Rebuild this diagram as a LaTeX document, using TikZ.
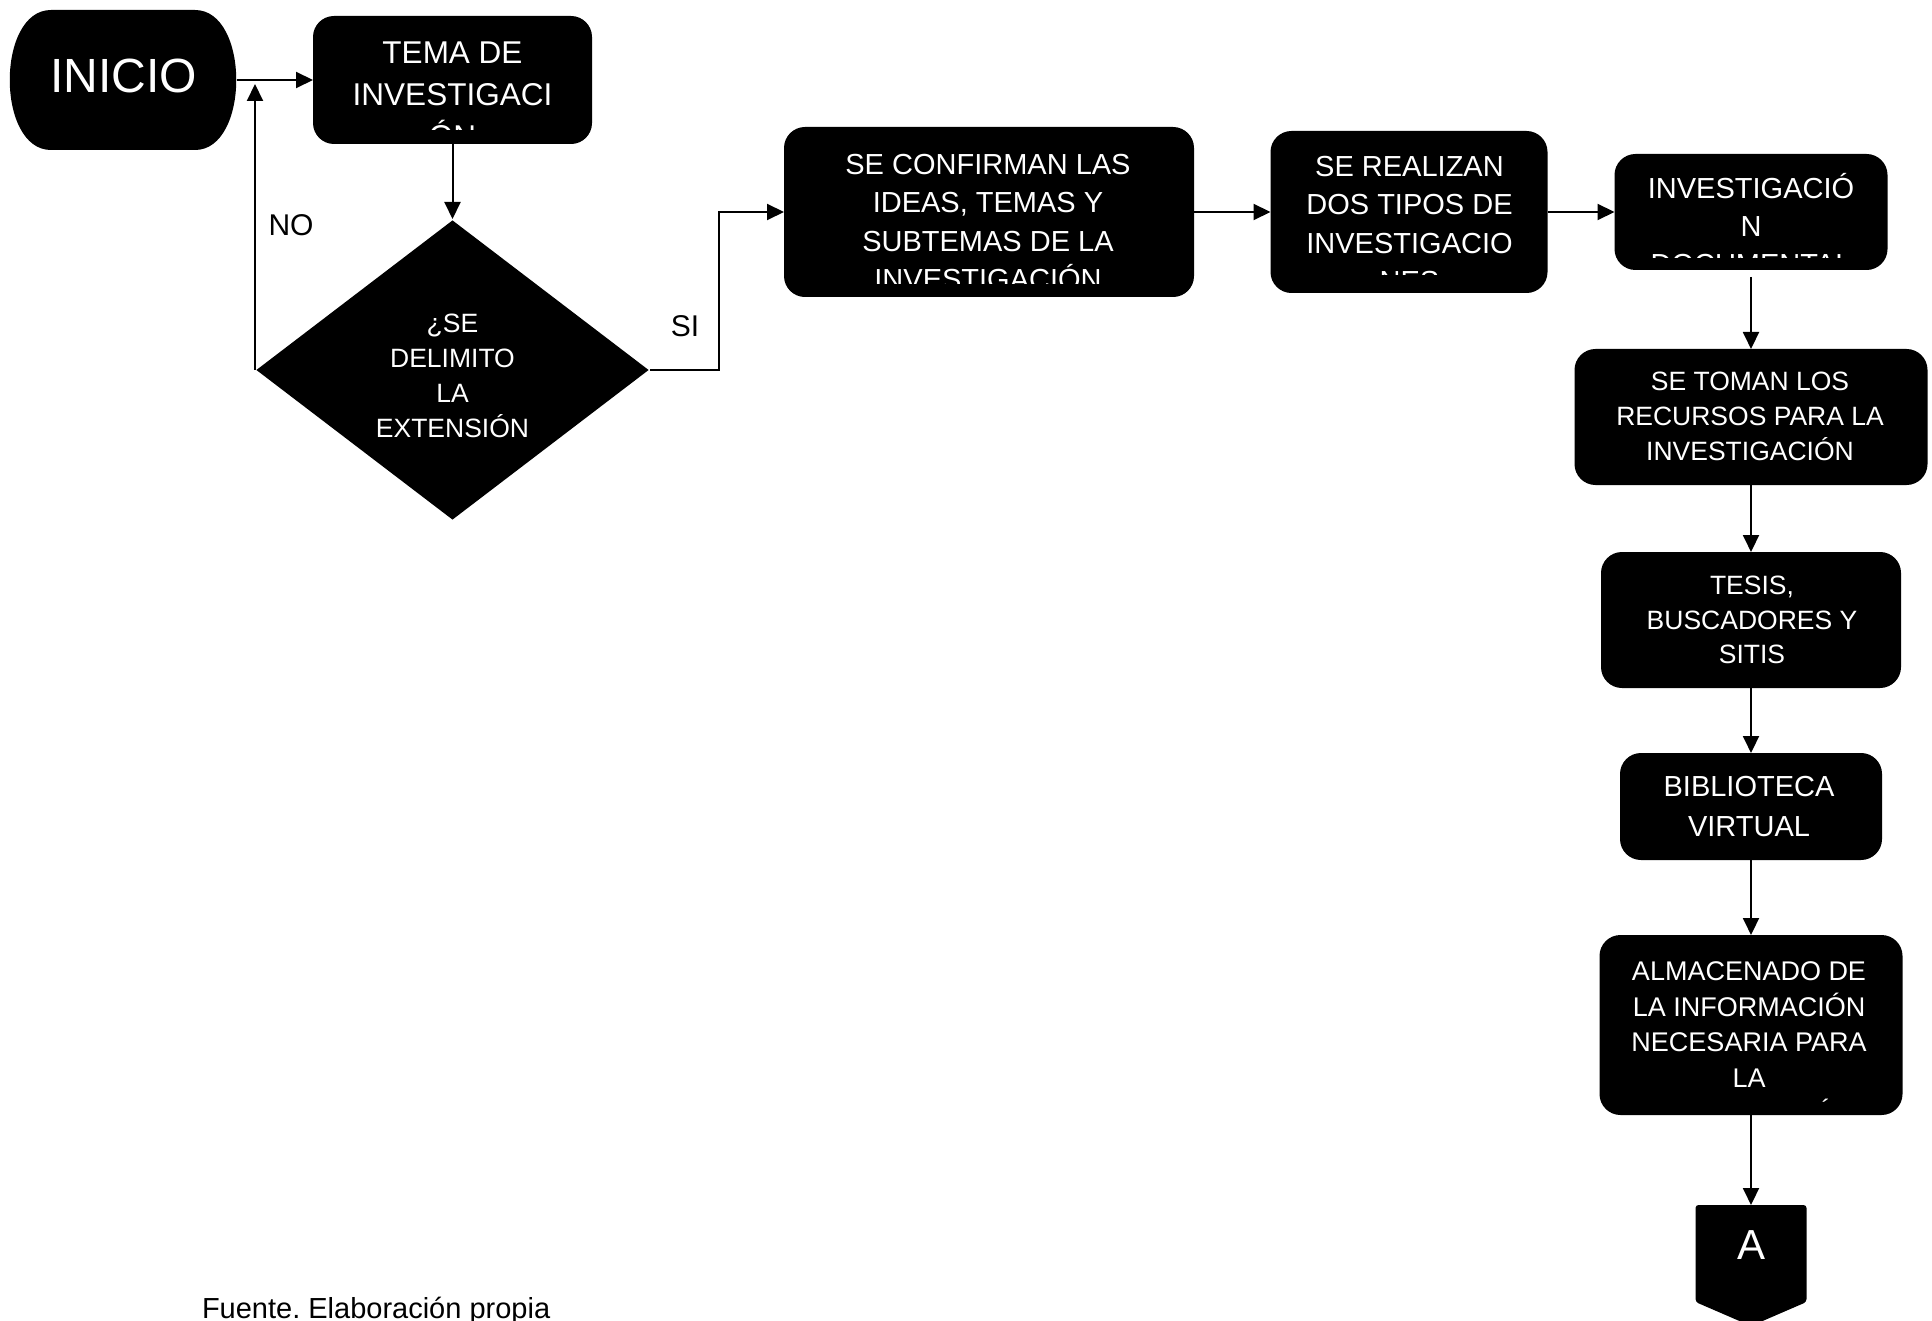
\documentclass[tikz,border=0pt]{standalone}
\usepackage{fontspec}
\setmainfont{Liberation Sans}
\usetikzlibrary{arrows.meta,shapes.misc,shapes.geometric,calc}
\newcommand*\fsz[2]{\fontsize{#1pt}{#2pt}\selectfont}
\frenchspacing

\begin{document}
\begin{tikzpicture}[x=1pt,y=-1pt,>={Triangle[length=17pt,width=16pt]},line width=2pt,
  blk/.style={fill=black,draw=black,rounded corners=20pt,inner sep=0pt},
  txt/.style={text=white,align=center,inner sep=0pt,anchor=base},
  lbl/.style={inner sep=0pt,anchor=base,font=\fsz{30}{36}}]
\useasboundingbox (0,0) rectangle (1932,1321);

% start and question (text anchored at the baseline of its last line)
\fill (51,10) -- (195,10) .. controls (250,10) and (250,150) .. (195,150) -- (51,150) .. controls (-4,150) and (-4,10) .. (51,10) -- cycle;
\node[inner sep=0pt,minimum width=226pt,minimum height=140pt] (inicio) at (123,80) {};
\node[txt,font=\fsz{48}{56}] (iniciotxt) at (123.5,93) {INICIO};
\node[fill=black,diamond,aspect=1.31,minimum width=393pt,minimum height=300pt,inner sep=0pt] (dia) at (452.5,370) {};
\node[txt,font=\fsz{26.5}{35}] (diatxt) at (452.5,437.5) {¿SE\\DELIMITO\\LA\\EXTENSIÓN};

% top row
\node[blk,minimum width=277pt,minimum height=126pt] (tema) at (452.5,80) {};
\node[blk,minimum width=408pt,minimum height=168pt] (conf) at (989,212) {};
\node[blk,minimum width=275pt,minimum height=160pt] (realiz) at (1409,212) {};
\node[blk,minimum width=271pt,minimum height=114pt] (inv) at (1751,212) {};

% right column
\node[blk,minimum width=351pt,minimum height=134pt] (toman) at (1751,417) {};
\node[blk,minimum width=298pt,minimum height=134pt] (tesis) at (1751,620) {};
\node[blk,minimum width=260pt,minimum height=105pt] (biblio) at (1751,806.5) {};
\node[blk,minimum width=301pt,minimum height=178pt] (almac) at (1751,1025) {};
\coordinate (atop) at (1751,1205);
\fill[rounded corners=3pt] (1695.5,1205) -- (1806.5,1205) -- (1806.5,1302) -- (1751,1326) -- (1695.5,1302) -- cycle;
\node[txt,font=\fsz{42}{50}] (conA) at (1751,1259.5) {A};

% texts, cut off where the boxes cut them
\begin{scope}
\clip (300,0) rectangle (600,130);
\node[txt,font=\fsz{31.5}{42}] (tematxt) at (452.5,148) {TEMA DE\\INVESTIGACI\\ÓN};
\end{scope}
\begin{scope}
\clip (780,120) rectangle (1200,284);
\node[txt,font=\fsz{29}{38.5}] (conftxt) at (988,290) {SE CONFIRMAN LAS\\IDEAS, TEMAS Y\\SUBTEMAS DE LA\\INVESTIGACIÓN};
\end{scope}
\begin{scope}
\clip (1265,120) rectangle (1550,275);
\node[txt,font=\fsz{29}{38.5}] (realiztxt) at (1409.5,292) {SE REALIZAN\\DOS TIPOS DE\\INVESTIGACIO\\NES};
\end{scope}
\begin{scope}
\clip (1610,150) rectangle (1895,258);
\node[txt,font=\fsz{29}{38}] (invtxt) at (1751,275) {INVESTIGACIÓ\\N\\DOCUMENTAL};
\end{scope}
\node[txt,font=\fsz{26.5}{35}] (tomantxt) at (1750,460) {SE TOMAN LOS\\RECURSOS PARA LA\\INVESTIGACIÓN};
\node[txt,font=\fsz{26.5}{34.5}] (tesistxt) at (1752,663.5) {TESIS,\\BUSCADORES Y\\SITIS};
\node[txt,font=\fsz{29}{39.5}] (bibliotxt) at (1749,836) {BIBLIOTECA\\VIRTUAL};
\begin{scope}
\clip (1590,930) rectangle (1910,1101);
\node[txt,font=\fsz{27}{35.5}] (almactxt) at (1749,1122.5) {ALMACENADO DE\\LA INFORMACIÓN\\NECESARIA PARA\\LA\\INVESTIGACIÓN};
\end{scope}

% connectors
\draw[->] (inicio.east) -- (tema.west);
\draw[->] (tema.south) -- (dia.north);
\draw[->] (dia.west) -- ([yshift=-4pt]dia.west |- inicio.east);
\node[lbl] (no) at (291,236) {NO};
\draw[->] (dia.east) -- ++(69,0) |- (conf.west);
\node[lbl] (si) at (685,337) {SI};
\draw[->] (conf.east) -- (realiz.west);
\draw[->] (realiz.east) -- (inv.west);
\draw[->] ([yshift=-7pt]inv.south) -- (toman.north);
\draw[->] (toman.south) -- (tesis.north);
\draw[->] (tesis.south) -- (biblio.north);
\draw[->] (biblio.south) -- (almac.north);
\draw[->] (almac.south) -- (atop);

\node[inner sep=0pt,anchor=base west,font=\fsz{29}{35}] (fuente) at (201,1318) {Fuente. Elaboración propia};
\end{tikzpicture}
\end{document}
